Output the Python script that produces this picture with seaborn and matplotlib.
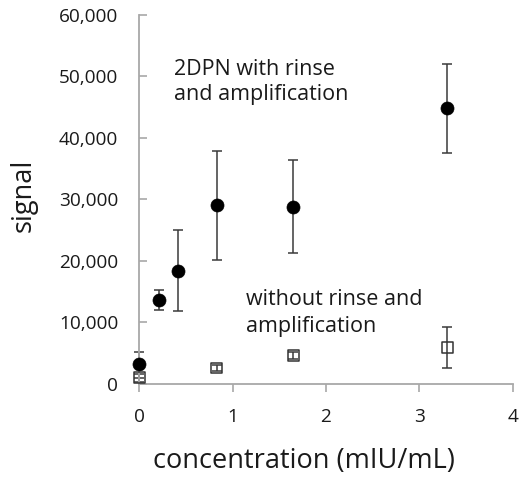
import matplotlib
matplotlib.use("Agg")
import matplotlib.pyplot as plt
import seaborn as sns
import pandas as pd
from matplotlib.ticker import FuncFormatter

# 2DPN with rinse and amplification
conc_amp = [0.0, 0.21, 0.42, 0.83, 1.65, 3.3]
signal_amp = [3200, 13700, 18400, 29100, 28800, 44900]
err_amp_low = [2200, 1700, 6500, 8900, 7500, 7300]
err_amp_high = [2000, 1600, 6600, 8800, 7600, 7100]

# without rinse and amplification
conc_plain = [0.0, 0.83, 1.65, 3.3]
signal_plain = [1000, 2600, 4600, 6000]
err_plain_low = [600, 500, 600, 3400]
err_plain_high = [600, 500, 600, 3300]

x_ticks = [0, 1, 2, 3, 4]
y_ticks = [0, 10000, 20000, 30000, 40000, 50000, 60000]

label_amp = ["2DPN with rinse", "and amplification"]
label_plain = ["without rinse and", "amplification"]

sns.set_theme(style="white")
plt.rcParams["font.family"] = ["Open Sans", "DejaVu Sans"]
plt.rcParams["font.weight"] = 500

text_color = "#1a1a1a"
axis_color = "#a8a8a8"
bar_color = "#3a3a3a"

fig = plt.figure(figsize=(5.19, 4.80), dpi=100)
ax = fig.add_axes([0.268, 0.2, 0.72, 0.769])

df_amp = pd.DataFrame({"conc": conc_amp, "signal": signal_amp})
df_plain = pd.DataFrame({"conc": conc_plain, "signal": signal_plain})

for xs, ys, lo, hi in [(conc_amp, signal_amp, err_amp_low, err_amp_high),
                       (conc_plain, signal_plain, err_plain_low, err_plain_high)]:
    eb = ax.errorbar(xs, ys, yerr=[lo, hi], fmt="none", ecolor=bar_color,
                     elinewidth=1.1, capsize=3.4, capthick=1.1, zorder=2)
    for art in eb.get_children():
        art.set_clip_on(False)

sns.scatterplot(data=df_amp, x="conc", y="signal", ax=ax, marker="o", s=88,
                color="black", edgecolor="black", linewidth=0.5, zorder=3,
                clip_on=False)
sns.scatterplot(data=df_plain, x="conc", y="signal", ax=ax, marker="s", s=62,
                facecolor="none", edgecolor="#333333", linewidth=1.1, zorder=3,
                clip_on=False)

ax.set_xlim(0, 4)
ax.set_ylim(0, 60000)
ax.set_xticks(x_ticks)
ax.set_yticks(y_ticks)
ax.yaxis.set_major_formatter(FuncFormatter(lambda v, p: f"{int(v):,}"))

for side in ["top", "right"]:
    ax.spines[side].set_visible(False)
for side in ["left", "bottom"]:
    ax.spines[side].set_color(axis_color)
    ax.spines[side].set_linewidth(1.3)

ax.tick_params(axis="y", direction="in", length=6, width=1.2, color=axis_color,
               labelsize=13.7, pad=15, labelcolor=text_color)
ax.tick_params(axis="x", direction="out", length=6, width=1.2, color=axis_color,
               labelsize=13.7, pad=11, labelcolor=text_color)
ax.tick_params(left=True, bottom=True)

ax.set_xlabel("concentration (mIU/mL)", fontsize=19.5, color=text_color)
ax.set_ylabel("signal", fontsize=19.5, color=text_color)
ax.xaxis.set_label_coords(0.441, -0.172)
ax.yaxis.set_label_coords(-0.272, 0.512)

for text, y in zip(label_amp, [50240, 46180]):
    ax.text(0.374, y, text, fontsize=15.5, color=text_color,
            ha="left", va="baseline")
for text, y in zip(label_plain, [12850, 8450]):
    ax.text(1.144, y, text, fontsize=15.5, color=text_color,
            ha="left", va="baseline")

fig.savefig("out.png", dpi=100)
